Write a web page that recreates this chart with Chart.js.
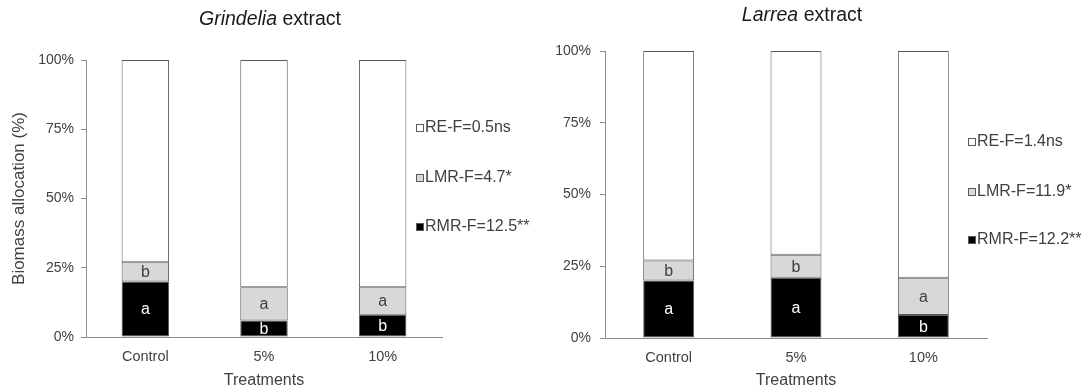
<!DOCTYPE html>
<html>
<head>
<meta charset="utf-8">
<script src="https://cdn.jsdelivr.net/npm/chart.js@4"></script>
<style>
  body { margin: 0; background: #fff; width: 1085px; height: 391px; overflow: hidden; position: relative; }
  .box { position: absolute; top: 0; height: 391px; }
  #grindeliaBox { left: 0; width: 540px; }
  #larreaBox { left: 540px; width: 545px; }
</style>
</head>
<body>
<div class="box" id="grindeliaBox"><canvas id="grindeliaChart"></canvas></div>
<div class="box" id="larreaBox"><canvas id="larreaChart"></canvas></div>
<script>
const treatments = ["Control", "5%", "10%"];
const yTicks = [0, 25, 50, 75, 100];

// Grindelia extract (% of biomass)
const grindeliaRMR = [20, 6, 8];
const grindeliaLMR = [7, 12, 10];
const grindeliaRE = [73, 82, 82];
const grindeliaRMRLetters = ["a", "b", "b"];
const grindeliaLMRLetters = ["b", "a", "a"];
const grindeliaLegend = ["RE-F=0.5ns", "LMR-F=4.7*", "RMR-F=12.5**"];

// Larrea extract (% of biomass)
const larreaRMR = [20, 21, 8];
const larreaLMR = [7, 8, 13];
const larreaRE = [73, 71, 79];
const larreaRMRLetters = ["a", "a", "b"];
const larreaLMRLetters = ["b", "b", "a"];
const larreaLegend = ["RE-F=1.4ns", "LMR-F=11.9*", "RMR-F=12.2**"];

const FONT = "'Liberation Sans', Arial, sans-serif";
const TEXT = "#404040";
const EDGE = "#595959";
const FILLS = ["#000000", "#d6d8d9", "#ffffff"];

// title, letters in bars and legend
const extras = {
  id: "extras",
  afterDraw(chart, args, opts) {
    const ctx = chart.ctx;
    ctx.save();

    // title: italic genus + normal word
    ctx.fillStyle = "#1a1a1a";
    ctx.textBaseline = "middle";
    ctx.font = "italic 19.5px " + FONT;
    const w1 = ctx.measureText(opts.genus + " ").width;
    ctx.font = "19.5px " + FONT;
    const w2 = ctx.measureText("extract").width;
    let x0 = opts.titleX - (w1 + w2) / 2;
    ctx.font = "italic 19.5px " + FONT;
    ctx.textAlign = "left";
    ctx.fillText(opts.genus + " ", x0, opts.titleY);
    ctx.font = "19.5px " + FONT;
    ctx.fillText("extract", x0 + w1, opts.titleY);

    // letters
    ctx.font = "16px " + FONT;
    ctx.textAlign = "center";
    opts.letters.forEach((letters, di) => {
      const meta = chart.getDatasetMeta(di);
      meta.data.forEach((bar, i) => {
        ctx.fillStyle = di === 0 ? "#ffffff" : TEXT;
        ctx.fillText(letters[i], bar.x, (bar.y + bar.base) / 2 + 1);
      });
    });

    // legend
    ctx.font = "16px " + FONT;
    ctx.textAlign = "left";
    const order = [2, 1, 0];
    opts.legend.forEach((label, k) => {
      const y = opts.legendY[k];
      const x = opts.legendX;
      ctx.fillStyle = FILLS[order[k]];
      ctx.fillRect(x, y - 3.5, 7, 7);
      ctx.strokeStyle = EDGE;
      ctx.lineWidth = 1;
      ctx.strokeRect(x + 0.5, y - 3.5, 7, 7);
      ctx.fillStyle = TEXT;
      ctx.fillText(label, x + 9, y);
    });

    ctx.restore();
  },
};

function makeChart(id, cfg) {
  const datasets = [
    { label: "RMR", data: cfg.rmr, backgroundColor: FILLS[0] },
    { label: "LMR", data: cfg.lmr, backgroundColor: FILLS[1] },
    { label: "RE", data: cfg.re, backgroundColor: FILLS[2] },
  ].map((d) => ({
    ...d,
    borderColor: EDGE,
    borderWidth: 1,
    borderSkipped: false,
    barPercentage: 0.4,
    categoryPercentage: 1,
  }));

  return new Chart(document.getElementById(id), {
    type: "bar",
    data: { labels: treatments, datasets },
    plugins: [extras],
    options: {
      responsive: true,
      maintainAspectRatio: false,
      animation: false,
      layout: { padding: cfg.padding },
      plugins: {
        legend: { display: false },
        tooltip: { enabled: false },
        extras: {
          genus: cfg.genus,
          titleX: cfg.titleX,
          titleY: cfg.titleY,
          letters: [cfg.rmrLetters, cfg.lmrLetters],
          legend: cfg.legend,
          legendX: cfg.legendX,
          legendY: cfg.legendY,
        },
      },
      scales: {
        x: {
          stacked: true,
          grid: { display: false, drawTicks: false },
          border: { display: true, color: "#8c8c8c" },
          ticks: { color: TEXT, font: { family: FONT, size: 14.5 }, padding: 11 },
          title: {
            display: true,
            text: "Treatments",
            color: TEXT,
            font: { family: FONT, size: 16 },
            padding: { top: 2, bottom: 1 },
          },
          afterFit: (s) => { s.height = cfg.xHeight; },
        },
        y: {
          stacked: true,
          min: 0,
          max: 100,
          afterBuildTicks: (s) => { s.ticks = yTicks.map((v) => ({ value: v })); },
          grid: { drawOnChartArea: false, drawTicks: true, tickLength: 5, color: "#8c8c8c" },
          border: { display: true, color: "#8c8c8c" },
          ticks: {
            color: TEXT,
            font: { family: FONT, size: 14 },
            padding: cfg.tickPad,
            callback: (v) => v + "%",
          },
          title: {
            display: cfg.yTitle,
            text: "Biomass allocation (%)",
            color: TEXT,
            font: { family: FONT, size: 17 },
            padding: { top: 9, bottom: 2 },
          },
          afterFit: (s) => { s.width = cfg.yWidth; },
        },
      },
    },
  });
}

makeChart("grindeliaChart", {
  rmr: grindeliaRMR, lmr: grindeliaLMR, re: grindeliaRE,
  rmrLetters: grindeliaRMRLetters, lmrLetters: grindeliaLMRLetters,
  legend: grindeliaLegend,
  genus: "Grindelia",
  titleX: 270, titleY: 20,
  legendX: 416, legendY: [128, 178, 227],
  padding: { left: 0, right: 98, top: 60, bottom: 0 },
  yWidth: 86, yTitle: true, tickPad: 7, xHeight: 54,
});

makeChart("larreaChart", {
  rmr: larreaRMR, lmr: larreaLMR, re: larreaRE,
  rmrLetters: larreaRMRLetters, lmrLetters: larreaLMRLetters,
  legend: larreaLegend,
  genus: "Larrea",
  titleX: 262, titleY: 16,
  legendX: 428, legendY: [142, 192, 240],
  padding: { left: 0, right: 98, top: 51, bottom: 0 },
  yWidth: 65, yTitle: false, tickPad: 9, xHeight: 53,
});
</script>
</body>
</html>
